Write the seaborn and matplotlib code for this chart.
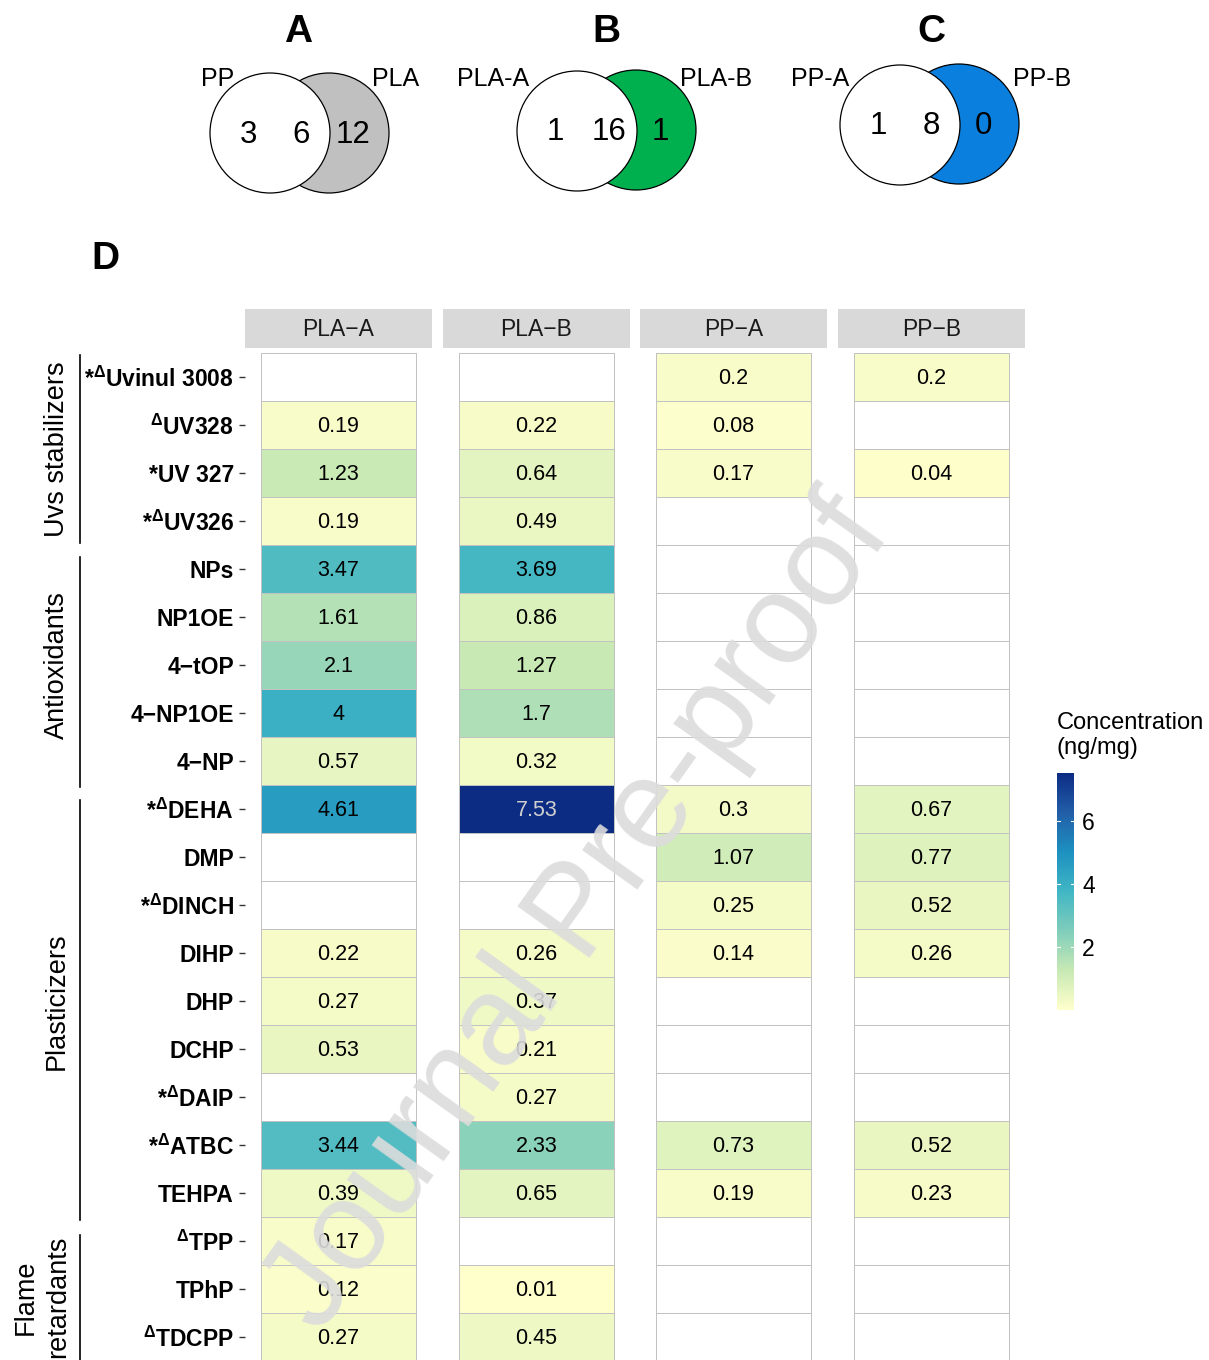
import numpy as np
import pandas as pd
import seaborn as sns
import matplotlib.pyplot as plt
from matplotlib.colors import ListedColormap, LinearSegmentedColormap, Normalize
from matplotlib.cm import ScalarMappable
from matplotlib.patches import Circle

plt.rcParams['font.family'] = ['Liberation Sans', 'DejaVu Sans']
plt.rcParams['mathtext.fontset'] = 'custom'
plt.rcParams['mathtext.rm'] = 'Liberation Sans'
plt.rcParams['mathtext.bf'] = 'Liberation Sans:bold'

# ---- data ----
samples = ['PLA−A', 'PLA−B', 'PP−A', 'PP−B']
compounds = [r'*$^{\mathbf{\Delta}}$Uvinul 3008', r'$^{\mathbf{\Delta}}$UV328', '*UV 327',
             r'*$^{\mathbf{\Delta}}$UV326', 'NPs', 'NP1OE', '4−tOP', '4−NP1OE', '4−NP',
             r'*$^{\mathbf{\Delta}}$DEHA', 'DMP', r'*$^{\mathbf{\Delta}}$DINCH', 'DIHP', 'DHP',
             'DCHP', r'*$^{\mathbf{\Delta}}$DAIP', r'*$^{\mathbf{\Delta}}$ATBC', 'TEHPA',
             r'$^{\mathbf{\Delta}}$TPP', 'TPhP', r'$^{\mathbf{\Delta}}$TDCPP']
nan = np.nan
pla_a = [nan, 0.19, 1.23, 0.19, 3.47, 1.61, 2.1, 4, 0.57, 4.61, nan, nan, 0.22, 0.27,
         0.53, nan, 3.44, 0.39, 0.17, 0.12, 0.27]
pla_b = [nan, 0.22, 0.64, 0.49, 3.69, 0.86, 1.27, 1.7, 0.32, 7.53, nan, nan, 0.26, 0.37,
         0.21, 0.27, 2.33, 0.65, nan, 0.01, 0.45]
pp_a = [0.2, 0.08, 0.17, nan, nan, nan, nan, nan, nan, 0.3, 1.07, 0.25, 0.14, nan,
        nan, nan, 0.73, 0.19, nan, nan, nan]
pp_b = [0.2, nan, 0.04, nan, nan, nan, nan, nan, nan, 0.67, 0.77, 0.52, 0.26, nan,
        nan, nan, 0.52, 0.23, nan, nan, nan]
groups = ['Uvs stabilizers', 'Antioxidants', 'Plasticizers', 'Flame\nretardants']
group_sizes = [4, 5, 9, 3]

venn_letters = ['A', 'B', 'C']
venn_left = ['PP', 'PLA-A', 'PP-A']
venn_right = ['PLA', 'PLA-B', 'PP-B']
venn_counts = [[3, 6, 12], [1, 16, 1], [1, 8, 0]]
venn_colors = ['#c0c0c0', '#00b04f', '#0a7fde']

df = pd.DataFrame({'PLA−A': pla_a, 'PLA−B': pla_b, 'PP−A': pp_a, 'PP−B': pp_b},
                  index=compounds)

# 7-class YlGnBu, as a distiller-style gradient
ylgnbu7 = ['#ffffcc', '#c7e9b4', '#7fcdbb', '#41b6c4', '#1d91c0', '#225ea8', '#0c2c84']
cmap = LinearSegmentedColormap.from_list('ylgnbu7', ylgnbu7)

W, H = 1209, 1360
fig = plt.figure(figsize=(W / 100, H / 100), dpi=100)


def px_axes(x0, y0, x1, y1):
    return fig.add_axes([x0 / W, 1 - y1 / H, (x1 - x0) / W, (y1 - y0) / H])


vmin, vmax = 0.01, 7.53
strip_x = [245, 443, 640, 838]
panel_w = 187
row_h = 48
top_cell = 353
grid_col = '#c2c2c2'

# ---- heatmap facets ----
for i, s in enumerate(samples):
    x0 = strip_x[i]
    ax = px_axes(x0, 349, x0 + panel_w, H)
    col = df[[s]]
    sns.heatmap(np.zeros(col.shape), ax=ax, cmap=ListedColormap(['white']), cbar=False,
                linewidths=0.6, linecolor=grid_col, xticklabels=False, yticklabels=False)
    labels = np.array([[f'{v:g}' if not np.isnan(v) else ''] for v in col[s]])
    sns.heatmap(col, ax=ax, cmap=cmap, vmin=vmin, vmax=vmax, cbar=False,
                annot=labels, fmt='', annot_kws={'fontsize': 15.5, 'color': 'black'},
                linewidths=0.6, linecolor=grid_col, xticklabels=False, yticklabels=False)
    for t in ax.texts:
        x, y = t.get_position()
        t.set_position((x, y + 0.04))
        if t.get_text() and float(t.get_text()) > 6:
            t.set_color('#d0d0d0')
    ax.set_xlim(-16 / 155, 1 + 16 / 155)
    ax.set_ylim((H - top_cell) / row_h, -4 / row_h)
    ax.set_xlabel('')
    ax.set_ylabel('')
    ax.tick_params(bottom=False, labelbottom=False)
    if i == 0:
        ax.set_yticks(np.arange(len(compounds)) + 0.5)
        ax.set_yticklabels(compounds, fontsize=16.5, fontweight='bold')
        ax.tick_params(axis='y', left=True, length=4, width=1, color='#333333', pad=4,
                       labelrotation=0)
    else:
        ax.tick_params(left=False, labelleft=False)
    sax = px_axes(x0, 309, x0 + panel_w, 348)
    sax.set_facecolor('#d9d9d9')
    sax.set_xticks([])
    sax.set_yticks([])
    for sp in sax.spines.values():
        sp.set_visible(False)
    sax.text(0.5, 0.47, s, ha='center', va='center', fontsize=16.5, color='#1a1a1a',
             transform=sax.transAxes)

# ---- colorbar ----
cax = px_axes(1057, 773, 1074, 1010)
sm = ScalarMappable(norm=Normalize(vmin, vmax), cmap=cmap)
cb = fig.colorbar(sm, cax=cax, ticks=[2, 4, 6])
cb.outline.set_visible(False)
cax.tick_params(length=0, labelsize=16.5, pad=6)
for t in [2, 4, 6]:
    cax.plot([0, 0.2], [t, t], color='white', lw=0.8, transform=cax.get_yaxis_transform())
    cax.plot([0.8, 1], [t, t], color='white', lw=0.8, transform=cax.get_yaxis_transform())
fig.text(1057 / W, 1 - 712 / H, 'Concentration\n(ng/mg)', ha='left', va='top',
         fontsize=17, linespacing=1.2)

# ---- overlay: venns, group labels ----
ov = fig.add_axes([0, 0, 1, 1], zorder=-1)
ov.set_xlim(0, W)
ov.set_ylim(H, 0)
ov.axis('off')

venn_centers = [((270, 133), (329, 133)), ((577, 131), (636, 130)), ((900, 125), (959, 124))]
letter_x = [298, 606, 931]
left_lab = [(218, 79), (493, 79), (820, 79)]
right_lab = [(396, 79), (716, 79), (1042, 79)]
for k in range(3):
    (lx, ly), (rx, ry) = venn_centers[k]
    ov.add_patch(Circle((rx, ry), 60, facecolor=venn_colors[k], edgecolor='black', lw=0.9))
    ov.add_patch(Circle((lx, ly), 60, facecolor='white', edgecolor='black', lw=0.9))
    n_left, n_mid, n_right = venn_counts[k]
    cy = (ly + ry) / 2 + 2
    ov.text(lx - 22, cy, str(n_left), ha='center', va='center', fontsize=22.5)
    ov.text((lx + rx) / 2 + 2, cy, str(n_mid), ha='center', va='center', fontsize=22.5)
    ov.text(rx + 24, cy, str(n_right), ha='center', va='center', fontsize=22.5)
    ov.text(letter_x[k], 32, venn_letters[k], ha='center', va='center', fontsize=28,
            fontweight='bold')
    ov.text(*left_lab[k], venn_left[k], ha='center', va='center', fontsize=18)
    ov.text(*right_lab[k], venn_right[k], ha='center', va='center', fontsize=18)

ov.text(105, 259, 'D', ha='center', va='center', fontsize=28, fontweight='bold')

start = 0
gaps = [(355, 543), (557, 787), (800, 1220), (1235, 1362)]
for g, n, (y0, y1) in zip(groups, group_sizes, gaps):
    ov.plot([80, 80], [y0, y1], color='black', lw=1.2, clip_on=False)
    ymid = top_cell + row_h * (start + n / 2)
    if '\n' in g:
        ymid = 1297
    ov.text(57 if '\n' not in g else 42, ymid, g, rotation=90, ha='center', va='center',
            fontsize=19.5, linespacing=1.3)
    start += n

# ---- watermark ----
fig.text(580 / W, 1 - 915 / H, 'Journal Pre-proof', rotation=54.5, ha='center', va='center',
         fontsize=92, color='#dcdcdc', alpha=0.9, zorder=10)

fig.savefig('out.png', dpi=100)
